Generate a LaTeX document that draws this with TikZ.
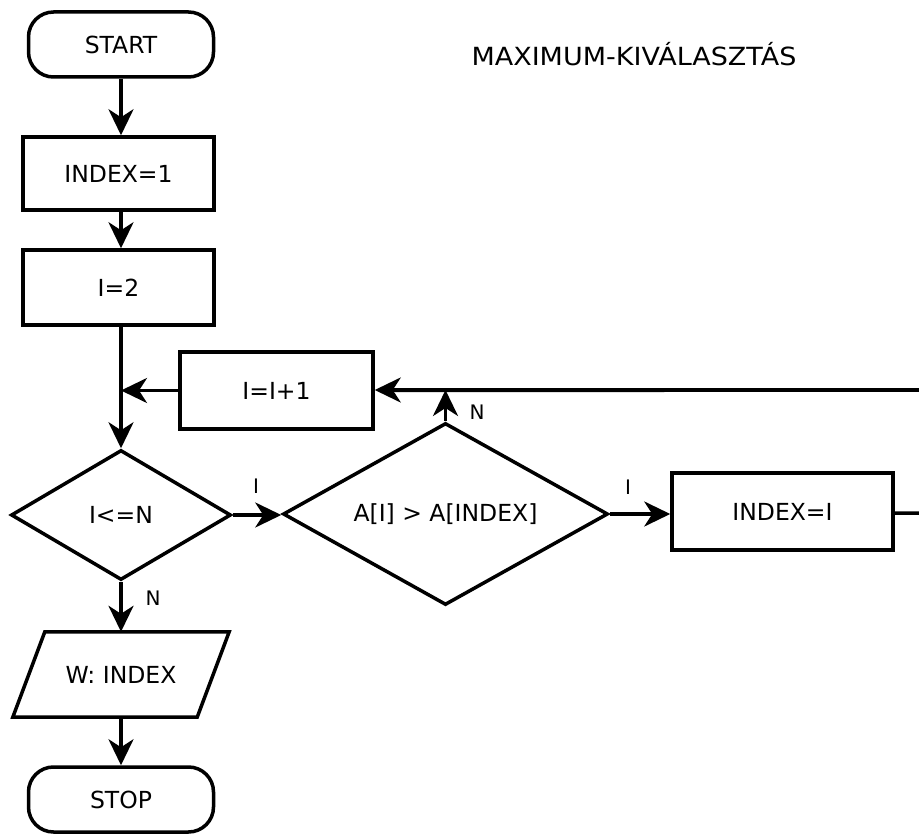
\documentclass[tikz,border=0pt]{standalone}
\usepackage{fontspec}
\setmainfont{DejaVu Sans}
\newfontfamily\titlefont[FakeStretch=1.08]{DejaVu Sans}
\usetikzlibrary{arrows.meta,shapes.geometric,calc}
\tikzset{
  base/.style={draw=black, line width=3.5pt, inner sep=0pt, font=\fontsize{23.5}{27}\selectfont},
  terminal/.style={base, rectangle, rounded corners=25pt, minimum width=185pt, minimum height=65pt},
  proc/.style={base, rectangle},
  decision/.style={base, diamond},
  conn/.style={line width=3.5pt},
  arr/.style={conn, -{Stealth[length=26pt,width=25pt,inset=8pt]}},
  lbl/.style={inner sep=0pt, font=\fontsize{20}{22}\selectfont}
}
\begin{document}
\begin{tikzpicture}[x=1pt,y=-1pt]
\useasboundingbox (0,0) rectangle (919,834);
\clip (0,0) rectangle (919,834);
% nodes
\node[terminal] (start) at (121,44.5) {START};
\node[proc, minimum width=191pt, minimum height=73pt] (idx1) at (118.5,173.5) {INDEX=1};
\node[proc, minimum width=191pt, minimum height=75pt] (i2) at (118.5,287.5) {I=2};
\node[proc, minimum width=193pt, minimum height=77pt] (inc) at (276.5,390.5) {I=I+1};
\node[decision, minimum width=220pt, minimum height=130pt, aspect=1.69] (cond) at (121,515) {I<=N};
\node[decision, minimum width=325pt, minimum height=182pt, aspect=1.79] (cmp) at (445.5,514) {A[I] > A[INDEX]};
\node[proc, minimum width=221pt, minimum height=77pt] (idxI) at (782.5,511.5) {INDEX=I};
\node[inner sep=0pt, minimum width=216pt, minimum height=85pt, font=\fontsize{23.5}{27}\selectfont] (out) at (121,674.5) {W: INDEX};
\draw[line width=3.5pt, line join=miter] (out.south west) -- ($(out.north west)+(32,0)$) -- (out.north east) -- ($(out.south east)+(-32,0)$) -- cycle;
\node[terminal] (stop) at (121,799.5) {STOP};
\node[inner sep=0pt, font=\titlefont\fontsize{25}{28}\selectfont] (title) at (634,54) {MAXIMUM-KIVÁLASZTÁS};
% connectors
\draw[arr] (start.south) -- (start.south |- idx1.north);
\draw[arr] (start.south |- idx1.south) -- (start.south |- i2.north);
\draw[conn] (start.south |- i2.south) -- (start.south |- inc.south);
\draw[arr] (start.south |- inc.west) -- (cond.north);
\draw[arr] (inc.west) -- (start.south |- inc.west);
\draw[arr] (cond.east) -- (cond.east -| cmp.west);
\node[lbl] (li1) at (256,486) {I};
\draw[arr] (cmp.east) -- (cmp.east -| idxI.west);
\node[lbl] (li2) at (628,487) {I};
\coordinate (r1) at (935,513);
\coordinate (r2) at (935,390);
\draw[conn] (idxI.east |- r1) -- (r1) -- (r2) -- ($(inc.east)+(20,0)$);
\draw[arr] (r2) -- (inc.east |- r2);
\draw[arr] (cmp.north) -- (cmp.north |- r2);
\node[lbl] (ln1) at (477,412) {N};
\draw[arr] (cond.south) -- (out.north);
\node[lbl] (ln2) at (153,598) {N};
\draw[arr] (out.south) -- (stop.north);
\end{tikzpicture}
\end{document}
